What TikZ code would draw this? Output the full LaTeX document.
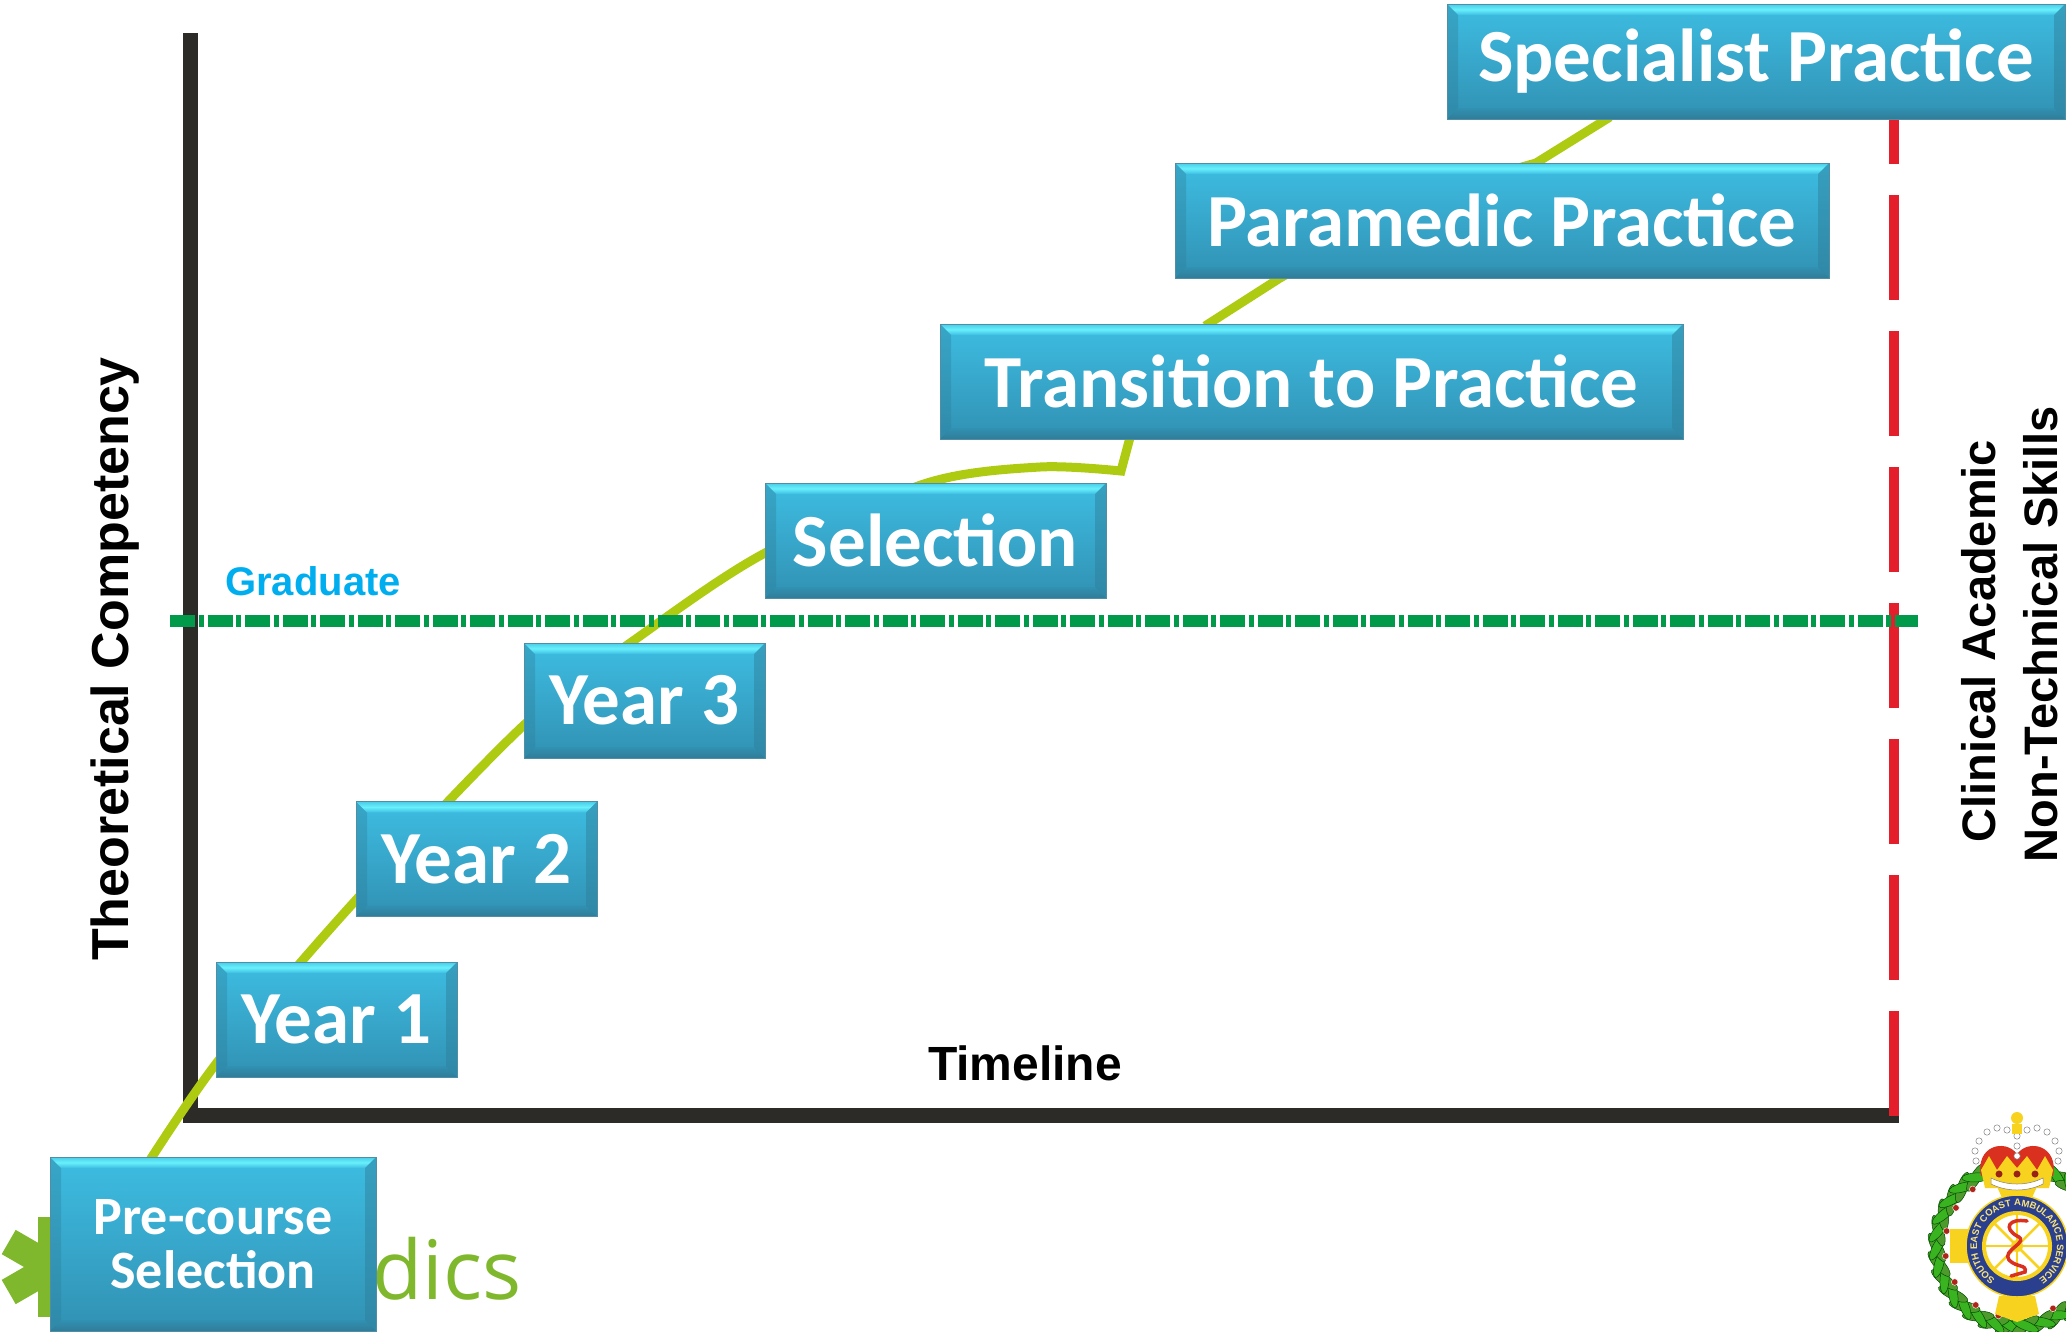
\documentclass[tikz,border=0pt]{standalone}
\usepackage{fontspec}
\setmainfont{Liberation Sans}
\newfontfamily\boxfont{Carlito}[BoldFont={Carlito Bold}]
\newfontfamily\logofont{Open Sans}
\usetikzlibrary{decorations.text,calc}
\definecolor{axisc}{HTML}{2D2B28}
\definecolor{redc}{HTML}{E51E2B}
\definecolor{gradc}{HTML}{009A4A}
\definecolor{limec}{HTML}{AECB12}
\definecolor{gradt}{HTML}{00AEEF}
\definecolor{logoc}{HTML}{7FB82C}
\definecolor{bodyT}{HTML}{3DBDE2}
\definecolor{bodyB}{HTML}{3191B3}
\definecolor{bevelL}{HTML}{68F0FB}
\definecolor{bevelB}{HTML}{2F7C97}
\definecolor{edgec}{HTML}{4F8EA5}
\definecolor{leafc}{HTML}{4E9A2C}
\definecolor{crestb}{HTML}{2B3F8F}
\definecolor{cresty}{HTML}{F7D21E}
\definecolor{crestr}{HTML}{D9301F}
\tikzset{
  bevelbox/.style={rectangle, inner sep=0pt, draw=edgec, line width=1pt,
    top color=bodyT, bottom color=bodyB, text=white,
    font=\boxfont\bfseries\fontsize{#1}{#1}\selectfont,
    path picture={
      \coordinate (nw) at (path picture bounding box.north west);
      \coordinate (ne) at (path picture bounding box.north east);
      \coordinate (sw) at (path picture bounding box.south west);
      \coordinate (se) at (path picture bounding box.south east);
      \shade[top color=bodyT!70!bevelL, bottom color=bodyT, middle color=bevelL]
        (nw) -- (ne) -- ($(ne)+(-11,11)$) -- ($(nw)+(11,11)$) -- cycle;
      \shade[top color=bodyB, bottom color=bevelB]
        (sw) -- (se) -- ($(se)+(-11,-11)$) -- ($(sw)+(11,-11)$) -- cycle;
      \fill[bevelB, opacity=.35] (nw) -- ($(nw)+(11,11)$) -- ($(sw)+(11,-11)$) -- (sw) -- cycle;
      \fill[bevelB, opacity=.45] (ne) -- ($(ne)+(-11,11)$) -- ($(se)+(-11,-11)$) -- (se) -- cycle;
    }},
  axisline/.style={axisc, line width=15pt},
  redline/.style={redc, line width=10pt, dash pattern=on 105pt off 31pt},
  gradline/.style={gradc, line width=12pt, dash pattern=on 25pt off 3.5pt on 5pt off 4pt},
  curveline/.style={limec, line width=9pt, line join=miter},
  arialbold/.style={font=\bfseries\fontsize{#1}{#1}\selectfont, inner sep=0pt},
  leaf/.style={fill=leafc, draw=green!30!black, line width=.5pt},
  berry/.style={fill=crestr!80!black, draw=white, line width=.4pt},
}
\begin{document}
\begin{tikzpicture}[x=1pt,y=-1pt]
\useasboundingbox (0,0) rectangle (2066,1331);
% logo behind the pre-course box
\begin{scope}[shift={(52,1267)}]
  \foreach \r in {0,60,120}{
    \fill[logoc, rotate=\r] (-14,-50) rectangle (14,50);
  }
  \draw[white, line width=2pt] (50,1267-1267-30) .. controls (40,-15) and (52,0) .. (46,15) .. controls (42,25) and (50,30) .. (48,38);
\end{scope}
\node[text=logoc, font=\logofont\fontsize{82}{82}\selectfont, inner sep=0pt, anchor=base west] (logo) at (372,1299) {dics};
% axes
\coordinate (axtop) at (190,33);
\coordinate (axorg) at (190,1115.5);
\coordinate (axend) at (1899,1115.5);
\draw[axisline] (axtop) -- (190,1123);
\draw[axisline] (182.5,1115.5) -- (axend);
% red line
\coordinate (redb) at (1894,1116);
\coordinate (redt) at (1894,119);
\draw[redline] (redb) -- (redt);
% curve
\coordinate (c0) at (150,1160);
\coordinate (c1) at (356,900);
\coordinate (c2) at (524,725);
\coordinate (c3) at (765,553);
\coordinate (c4) at (1040,467);
\coordinate (c5) at (1121,471);
\coordinate (c6) at (1132,430);
\coordinate (c7) at (1280,278);
\coordinate (c8) at (1610,117);
\draw[curveline] plot[smooth, tension=.5] coordinates {(c0) (222,1056) (c1) (c2) (640,636) (c3) (927,483) (c4) (c5)} -- (c6)
   (1205,326) -- (c7) -- (1440,190) -- (1536,163) -- (c8);
% graduate line
\coordinate (gl) at (170,621);
\coordinate (gr) at (1918,621);
\draw[gradline] (gl) -- (gr);
% labels
\node[arialbold=40, text=gradt, anchor=base west] (graduate) at (225,595) {Graduate};
\node[arialbold=52, rotate=90] (ytitle) at (115,659) {Theoretical Competency};
\node[arialbold=48] (xtitle) at (1025,1063) {Timeline};
\node[arialbold=47, rotate=90] (cl) at (1979,641) {Clinical Academic};
\node[arialbold=47, rotate=90] (nt) at (2041,634) {Non-Technical Skills};
% boxes
\node[bevelbox=54, minimum width=326pt, minimum height=174pt, align=center] (pre) at (213,1244)
  {\fontsize{54}{73}\selectfont Pre-course\\Selection};
\node[bevelbox=75, minimum width=241pt, minimum height=115pt] (y1) at (336.5,1019.5) {Year 1};
\node[bevelbox=75, minimum width=241pt, minimum height=115pt] (y2) at (476.5,859) {Year 2};
\node[bevelbox=75, minimum width=241pt, minimum height=115pt] (y3) at (644.5,700.5) {Year 3};
\node[bevelbox=75, minimum width=341pt, minimum height=115pt] (sel) at (935.5,540.5) {Selection};
\node[bevelbox=75, minimum width=743pt, minimum height=115pt] (tr) at (1311.5,381.5) {Transition to Practice};
\node[bevelbox=75, minimum width=654pt, minimum height=115pt] (pa) at (1502,220.5) {Paramedic Practice};
\node[bevelbox=75, minimum width=618pt, minimum height=115pt] (sp) at (1756,61.5) {Specialist Practice};
% crest
\begin{scope}
\clip (1900,1100) rectangle (2066,1331);
\begin{scope}[shift={(2017,1246)}]
  % wreath
  \foreach \a in {95,107,...,240,-60,-48,...,85}{
    \pgfmathsetmacro\cx{80*cos(\a)}
    \pgfmathsetmacro\cy{80*sin(\a)}
    \pgfmathsetmacro\rotA{-\a+90+28}
    \pgfmathsetmacro\rotB{-\a+90-28}
    \draw[leaf, shift={(\cx,\cy)}, rotate=\rotA] (0,0) ellipse (16 and 5);
    \draw[leaf, shift={(\cx,\cy)}, rotate=\rotB, fill=leafc!75!green] (0,0) ellipse (14 and 4.5);
  }
  \foreach \a in {105,125,150,172,192,212,232,60,35,-10,-35}{
    \pgfmathsetmacro\cx{72*cos(\a)}
    \pgfmathsetmacro\cy{72*sin(\a)}
    \fill[berry] (\cx,\cy) circle (3.3);
  }
  % yellow cross pieces
  \fill[cresty] (-22,-64) -- (22,-64) -- (14,-46) -- (-14,-46) -- cycle;
  \fill[cresty] (-67,-17) rectangle (-48,17);
  \fill[cresty] (-18,50) -- (18,50) -- (22,68) -- (0,76) -- (-22,68) -- cycle;
  % ring
  \fill[crestb, draw=cresty, line width=1.5pt] (0,0) circle (51);
  \draw[cresty, line width=4pt, fill=white] (0,0) circle (33);
  \foreach \s in {0,45,...,315}{
    \draw[cresty, line width=2.5pt, rotate=\s] (0,0) -- (32,0);
  }
  \fill[cresty] (0,0) circle (6);
  \draw[crestr, line width=3.5pt, line cap=round] (10,-25) .. controls (-8,-28) and (-14,-18) .. (0,-10) .. controls (14,-4) and (-16,4) .. (-8,14) .. controls (0,22) and (10,18) .. (8,26) -- (-6,30);
  \path[decorate, decoration={text along path, text align=center, text color=cresty!60!white,
    text={|\bfseries\fontsize{9.5}{9.5}\selectfont|SOUTH EAST COAST AMBULANCE SERVICE}}]
    (40*cos 125,40*sin 125) arc[start angle=125, end angle=415, radius=40];
  % crown
  \fill[crestr] (-36,-70) .. controls (-42,-100) and (-12,-108) .. (0,-92) .. controls (12,-108) and (42,-100) .. (36,-70) -- cycle;
  \fill[cresty] (-36,-76) -- (-28,-90) -- (-20,-76) -- (-10,-90) -- (0,-78) -- (10,-90) -- (20,-76) -- (28,-90) -- (36,-76) -- (32,-58) -- (-32,-58) -- cycle;
  \foreach \p in {(-41,-85),(-42,-95),(-38,-105),(-30,-114),(-20,-118),(-10,-116),(10,-116),(20,-118),(30,-114),(38,-105),(42,-95),(41,-85),(0,-110),(0,-100),(0,-90)}{
    \fill[white, draw=gray, line width=.5pt] \p circle (3.2);
  }
  \fill[cresty] (-5,-112) rectangle (5,-122);
  \fill[cresty] (0,-128) circle (6);
  \fill[crestr!70!black] (-18,-72) circle (3.5) (0,-72) circle (3.5) (18,-72) circle (3.5);
  \fill[white, draw=gray, line width=.5pt] (-26,-68) .. controls (-10,-60) and (10,-60) .. (26,-68) -- (26,-62) .. controls (10,-54) and (-10,-54) .. (-26,-62) -- cycle;
\end{scope}
\end{scope}
\end{tikzpicture}
\end{document}
